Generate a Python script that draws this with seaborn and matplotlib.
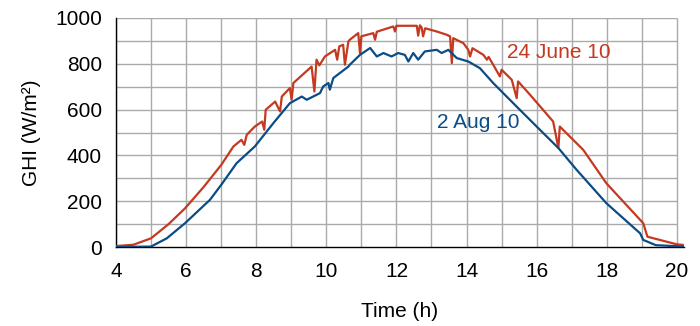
import numpy as np
import pandas as pd
import matplotlib
matplotlib.use("Agg")
import matplotlib.pyplot as plt
import seaborn as sns

# 24 June 10 (red)
june_t = [4.0, 4.5, 5.0, 5.5, 5.97, 6.5, 7.0, 7.35, 7.58, 7.66, 7.73, 7.96, 8.17, 8.23, 8.27,
          8.54, 8.68, 8.73, 8.96, 9.01, 9.06, 9.58, 9.66, 9.72, 9.8, 9.96, 10.25, 10.31, 10.37,
          10.48, 10.53, 10.63, 10.67, 10.91, 10.96, 11.0, 11.34, 11.39, 11.44, 11.91, 11.96, 12.0,
          12.58, 12.62, 12.67, 12.72, 12.76, 12.82, 13.15, 13.43, 13.53, 13.58, 13.62, 13.91,
          14.05, 14.1, 14.17, 14.48, 14.58, 14.63, 14.76, 14.95, 15.0, 15.29, 15.43, 15.47,
          15.81, 16.47, 16.62, 16.66, 17.33, 17.99, 19.04, 19.16, 19.99, 20.18]
june_v = [4, 10, 38, 100, 169, 262, 358, 439, 468, 446, 490, 526, 548, 512, 599,
          635, 592, 657, 694, 643, 716, 788, 679, 818, 793, 832, 861, 818, 876,
          883, 796, 898, 905, 934, 847, 920, 934, 905, 940, 963, 941, 966,
          966, 923, 968, 958, 920, 955, 941, 927, 920, 803, 912, 890,
          861, 832, 868, 839, 818, 830, 796, 745, 774, 730, 650, 723,
          665, 548, 432, 526, 424, 278, 104, 45, 12, 9]

# 2 Aug 10 (blue)
aug_t = [4.0, 5.0, 5.45, 5.97, 6.68, 7.0, 7.44, 7.96, 8.49, 8.96, 9.3, 9.44, 9.82, 9.91,
         10.06, 10.1, 10.2, 10.63, 10.67, 10.96, 11.25, 11.44, 11.63, 11.86, 12.05, 12.24,
         12.34, 12.48, 12.62, 12.81, 13.15, 13.29, 13.48, 13.72, 14.05, 14.38, 14.76, 15.0,
         15.43, 16.0, 16.62, 17.14, 17.99, 18.95, 19.04, 19.4, 20.18]
aug_v = [0, 2, 38, 104, 206, 271, 366, 439, 541, 628, 657, 643, 672, 701,
         716, 687, 738, 788, 796, 839, 869, 832, 847, 832, 847, 839,
         810, 847, 818, 854, 861, 847, 861, 825, 810, 781, 716, 679,
         613, 526, 432, 337, 191, 60, 31, 8, 2]

series_names = ["24 June 10", "2 Aug 10"]
colors = ["#c4391f", "#0a4c86"]

df = pd.concat([
    pd.DataFrame({"Time": june_t, "GHI": june_v, "Series": series_names[0]}),
    pd.DataFrame({"Time": aug_t, "GHI": aug_v, "Series": series_names[1]}),
])

sns.set_style("white")
plt.rcParams["font.family"] = ["Liberation Sans", "DejaVu Sans"]

fig = plt.figure(figsize=(7, 3.26), dpi=100)
ax = fig.add_axes([0.1657, 0.2423, 0.8113, 0.7025])

# grid restricted to 4..20 h, 0..1000
ax.vlines(np.arange(4, 21), 0, 1000, color="#aaaaaa", lw=1.0, zorder=0)
ax.hlines(np.arange(100, 1001, 100), 4, 20, color="#aaaaaa", lw=1.0, zorder=0)

sns.lineplot(data=df, x="Time", y="GHI", hue="Series", palette=colors,
             linewidth=1.6, legend=False, sort=False, ax=ax, zorder=3)

ax.set_xlim(4, 20.2)
ax.set_ylim(0, 1000)
ax.set_xticks(np.arange(4, 21, 1))
ax.set_xticklabels([str(h) if h % 2 == 0 else "" for h in range(4, 21)])
ax.set_yticks(np.arange(0, 1001, 100))
ax.set_yticklabels([str(v) if v % 200 == 0 else "" for v in range(0, 1001, 100)])

ax.tick_params(axis="both", labelsize=15, direction="out", color="black",
               labelcolor="black", width=1.0)
ax.tick_params(axis="x", length=6, pad=5)
ax.tick_params(axis="y", length=5, pad=5)

for side in ["top", "right"]:
    ax.spines[side].set_visible(False)
for side in ["left", "bottom"]:
    ax.spines[side].set_color("black")
    ax.spines[side].set_linewidth(1.0)

ax.set_xlabel("Time (h)", fontsize=15, labelpad=15, color="black")
ax.set_ylabel("GHI (W/m²)", fontsize=15, labelpad=10, color="black")

ax.text(15.14, 848, series_names[0], color=colors[0], fontsize=15, va="center", ha="left")
ax.text(13.15, 542, series_names[1], color=colors[1], fontsize=15, va="center", ha="left")

fig.savefig("out.png", dpi=100)
